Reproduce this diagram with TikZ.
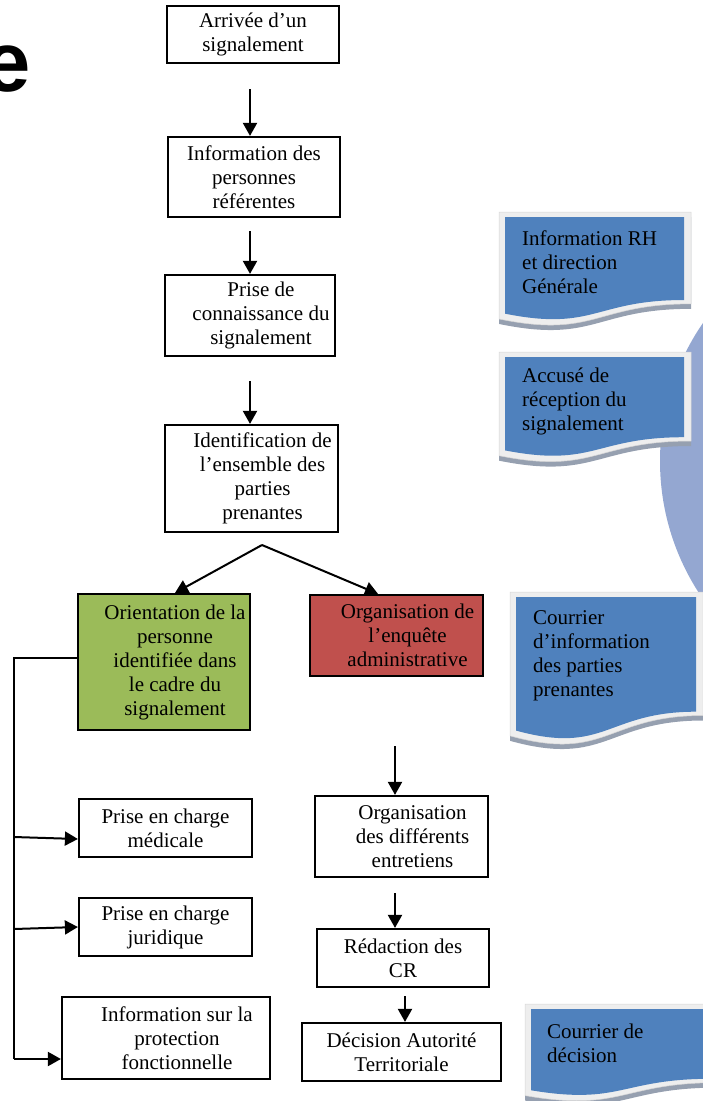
\documentclass[tikz,border=0pt]{standalone}
\usepackage{fontspec}
\setmainfont{Liberation Serif}
\newfontfamily\titlefont{Liberation Sans}
\usetikzlibrary{arrows.meta}
\definecolor{docblue}{RGB}{79,129,189}
\definecolor{docframe}{RGB}{238,238,238}
\definecolor{docedge}{RGB}{214,214,214}
\definecolor{docshade}{RGB}{150,160,176}
\definecolor{bubble}{RGB}{148,167,209}
\definecolor{orientgreen}{RGB}{155,187,89}
\definecolor{enqred}{RGB}{192,80,77}
\tikzset{
    box/.style={rectangle, draw, line width=2.2pt, inner sep=2pt, align=center, font=\fontsize{21pt}{24pt}\selectfont},
    doctext/.style={anchor=north west, inner sep=0pt, align=left, font=\fontsize{21pt}{24pt}\selectfont},
    arrow/.style={-{Triangle[length=13pt,width=14pt]}, line width=2pt},
    line/.style={line width=2pt}
}
% indent of a line in the word boxes
\newcommand{\pad}{\hspace*{22pt}}
% wavy document shape: top left corner, width, height
\newcommand{\docpath}[4]{({#1},{#2}) -- ({(#1)+(#3)},{#2}) -- ({(#1)+(#3)},{(#2)+0.802*(#4)}) .. controls ({(#1)+0.5*(#3)},{(#2)+0.802*(#4)}) and ({(#1)+0.5*(#3)},{(#2)+1.107*(#4)}) .. ({#1},{(#2)+0.934*(#4)}) -- cycle}
\newcommand{\docshape}[4]{%
    \fill[docshade] \docpath{#1-6}{#2}{#3+13}{#4+11};
    \filldraw[fill=docframe, draw=docedge, line width=0.5pt] \docpath{#1-6}{#2-5}{#3+13}{#4+11};
    \fill[docblue] \docpath{#1}{#2}{#3}{#4};
}

\begin{document}
\begin{tikzpicture}[x=1pt, y=-1pt]
    \useasboundingbox (0,0) rectangle (703,1101);
    \clip (0,0) rectangle (703,1101);

    % background
    \fill[bubble] (903,461) circle (243pt);
    \node[anchor=base west, inner sep=0pt, font=\titlefont\bfseries\fontsize{85pt}{85pt}\selectfont] (titre) at (-17,91) {e};

    % documents on the right
    \docshape{505}{217}{179}{103.5}
    \docshape{505}{357}{179}{100}
    \docshape{516}{597}{180}{143}
    \docshape{531}{1009}{180}{87}
    \node[doctext] (rhinfo) at (522,230.7) {Information RH\\et direction\\Générale};
    \node[doctext] (accuse) at (522,367.5) {Accusé de\\réception du\\signalement};
    \node[doctext] (courrierinfo) at (533,610.7) {Courrier\\d’information\\des parties\\prenantes};
    \node[doctext] (courrierdec) at (547,1023.7) {Courrier de\\décision};

    % main column
    \node[box, minimum width=172pt, minimum height=57pt] (arrivee) at (253,34.5) {Arrivée d’un\\signalement};
    \node[box, minimum width=172pt, minimum height=80pt] (referents) at (254,177) {Information des\\personnes\\référentes};
    \node[box, minimum width=170pt, minimum height=81pt] (priseconn) at (250,315.5) {\pad Prise de\\\pad connaissance du\\\pad signalement};
    \node[box, minimum width=173pt, minimum height=107pt] (identif) at (251.5,478.5) {\pad Identification de\\\pad l’ensemble des\\\pad parties\\\pad prenantes};

    % two branches
    \node[box, fill=orientgreen, minimum width=172pt, minimum height=136pt] (orient) at (164,662) {\pad Orientation de la\\\pad personne\\\pad identifiée dans\\\pad le cadre du\\\pad signalement};
    \node[box, fill=enqred, minimum width=173pt, minimum height=81pt] (enquete) at (396.5,635.5) {\pad Organisation de\\\pad l’enquête\\\pad administrative};

    % enquete column
    \node[box, minimum width=173pt, minimum height=81pt] (entretiens) at (401.5,836.5) {\pad Organisation\\\pad des différents\\\pad entretiens};
    \node[box, minimum width=172pt, minimum height=58pt] (redaction) at (403,958) {Rédaction des\\CR};
    \node[box, minimum width=199pt, minimum height=58pt] (decision) at (401.5,1052) {Décision Autorité\\Territoriale};

    % orientation column
    \node[box, minimum width=173pt, minimum height=58pt] (medicale) at (165.5,828) {Prise en charge\\médicale};
    \node[box, minimum width=173pt, minimum height=58pt] (juridique) at (165.5,927) {Prise en charge\\juridique};
    \node[box, minimum width=208pt, minimum height=82pt] (protection) at (166,1038) {\pad Information sur la\\\pad protection\\\pad fonctionnelle};

    % arrows
    \draw[arrow, shorten <=25pt] ([xshift=-3pt]arrivee.south) -- ([xshift=-4pt]referents.north);
    \draw[arrow, shorten <=13pt] ([xshift=-4pt]referents.south) -- (priseconn.north);
    \draw[arrow, shorten <=24pt] (priseconn.south) -- ([xshift=-1.5pt]identif.north);
    \coordinate (split) at (262,545);
    \draw[arrow] (split) -- ([xshift=11pt]orient.north);
    \draw[arrow] (split) -- ([xshift=-18.5pt]enquete.north);
    \draw[arrow, shorten <=69pt] ([xshift=-1.5pt]enquete.south) -- ([xshift=-6.5pt]entretiens.north);
    \draw[arrow, shorten <=15pt] ([xshift=-6.5pt]entretiens.south) -- ([xshift=-8pt]redaction.north);
    \draw[arrow, shorten <=8pt] ([xshift=2pt]redaction.south) -- ([xshift=3.5pt]decision.north);

    % left bus
    \coordinate (bustop) at (14,658);
    \coordinate (busmed) at (14,837);
    \coordinate (busjur) at (14,929);
    \coordinate (busend) at (14,1059);
    \draw[line] (orient.west |- bustop) -- (bustop) -- (busend);
    \draw[arrow] (busmed) -- ([yshift=-11pt]medicale.west);
    \draw[arrow] (busjur) -- (juridique.west);
    \draw[arrow] (busend) -- (protection.west |- busend);
\end{tikzpicture}
\end{document}
